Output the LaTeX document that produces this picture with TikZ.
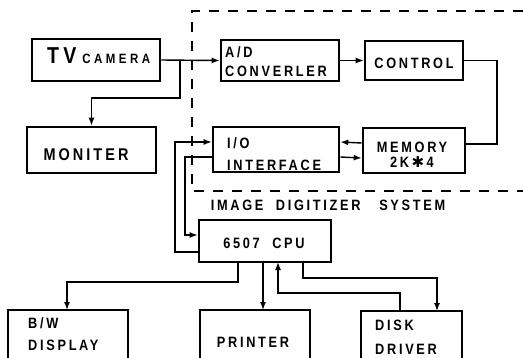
\documentclass[tikz,border=0pt]{standalone}
\usepackage{fontspec}
\usetikzlibrary{arrows.meta}
\newfontfamily\lab{Liberation Sans}[FakeStretch=0.85,LetterSpace=18]
\newfontfamily\labw{Liberation Sans}[FakeStretch=0.85,LetterSpace=26]
\newfontfamily\symf{DejaVu Sans}
\begin{document}
\begin{tikzpicture}[x=1pt,y=-1pt,
  box/.style={draw,line width=2.6pt,inner sep=0pt},
  txt/.style={font=\lab\bfseries\fontsize{15}{16}\selectfont,inner sep=0pt},
  conn/.style={line width=1.4pt},
  arr/.style={conn,-{Latex[length=8pt,width=6pt]}},
  frame/.style={line width=1.3pt,dash pattern=on 10pt off 9pt}]
\useasboundingbox (0,0) rectangle (523,357);
% boxes
\node[box,minimum width=128pt,minimum height=42pt] (tv) at (96,60) {};
\node[box,minimum width=129pt,minimum height=46pt] (mon) at (91.5,150) {};
\node[box,minimum width=118pt,minimum height=41pt] (ad) at (280,60.5) {};
\node[box,minimum width=98pt,minimum height=39pt] (ctl) at (414,60.5) {};
\node[box,minimum width=102pt,minimum height=45pt] (mem) at (414,150.5) {};
\node[box,minimum width=126pt,minimum height=45pt] (io) at (276,149.5) {};
\node[box,minimum width=132pt,minimum height=42pt] (cpu) at (265,241) {};
\node[box,minimum width=120pt,minimum height=50pt] (bw) at (68,335) {};
\node[box,minimum width=110pt,minimum height=50pt] (pr) at (255,335) {};
\node[box,minimum width=101pt,minimum height=48pt] (disk) at (411.5,335) {};
% texts
\node[txt,anchor=base west] (tvt) at (47,63) {{\fontsize{23}{24}\selectfont TV}\hspace{6pt}{\labw\bfseries\fontsize{13.5}{14}\selectfont CAMERA}};
\node[txt,anchor=base] (mont) at (86,160) {\fontsize{17}{18}\selectfont MONITER};
\node[txt,anchor=base west] (adt1) at (225,57) {A/D};
\node[txt,anchor=base west] (adt2) at (225,76) {CONVERLER};
\node[txt,anchor=base] (ctlt) at (414,68) {CONTROL};
\node[txt,anchor=base] (memt1) at (412,152) {MEMORY};
\node[txt,anchor=base] (memt2) at (412,167) {2K\,{\symf\bfseries ✱}\,4};
\node[txt,anchor=base west] (iot1) at (227,148) {I/O};
\node[txt,anchor=base west] (iot2) at (227,170) {INTERFACE};
\node[txt,anchor=base] (cput) at (264,248) {6507\ \ CPU};
\node[txt,anchor=base west] (bwt1) at (28,328) {B/W};
\node[txt,anchor=base west] (bwt2) at (28,350) {DISPLAY};
\node[txt,anchor=base] (prt) at (253,347) {PRINTER};
\node[txt,anchor=base west] (dkt1) at (375,330) {DISK};
\node[txt,anchor=base west] (dkt2) at (375,354) {DRIVER};
\node[txt,anchor=base] (sys) at (328,210) {IMAGE\ \ DIGITIZER\ \ \ SYSTEM};
% dashed frame
\draw[frame] (523,11) -- (192,11) -- (192,191) -- (523,191);
% connectors
\draw[arr] (tv.east) -- (ad.west);
\coordinate (b1) at (180,60);
\draw[arr] (b1) -- (180,98) -| (mon.north);
\draw[arr] (ad.east) -- (ctl.west);
\draw[conn] (ctl.east) -- (497,60.5) -- (497,144) -- ([yshift=6.5pt]mem.east);
\draw[arr] ([yshift=7.5pt]mem.west) -- ([yshift=7.5pt]io.east);
\draw[arr] ([yshift=-7.5pt]io.east) -- ([yshift=-7.5pt]mem.west);
\draw[arr] ([yshift=-11pt]cpu.west) -- (175,252) -- (175,142) -- ([yshift=7.5pt]io.west);
\draw[arr] ([yshift=-7.5pt]io.west) -- (185,157) -- (185,235) -- ([yshift=6pt]cpu.west);
\draw[arr] (238,262) -- (238,282) -- (67,282) -- (67,310);
\draw[arr] (263,262) -- (263,310);
\draw[arr] (400,311) -- (400,293) -- (278,293) -- (278,262);
\draw[arr] (303,262) -- (303,278) -- (437,278) -- (437,311);
\end{tikzpicture}
\end{document}
